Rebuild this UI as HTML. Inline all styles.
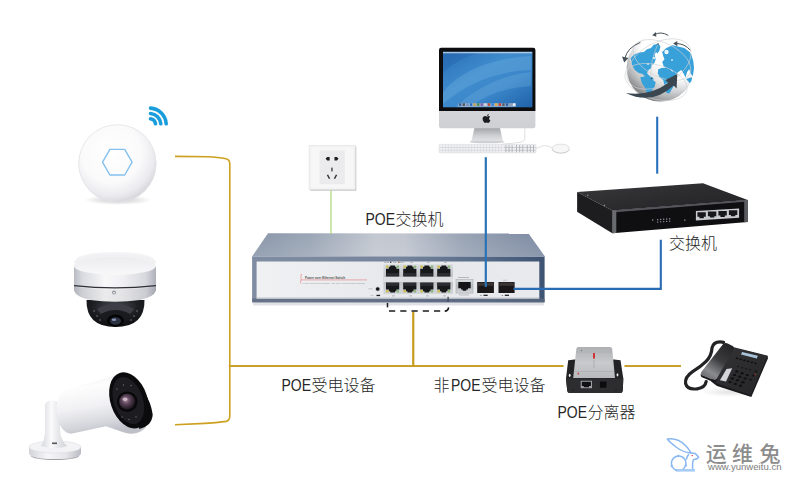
<!DOCTYPE html>
<html lang="zh-CN">
<head>
<meta charset="utf-8">
<title>POE交换机 网络拓扑</title>
<style>
html,body{margin:0;padding:0;background:#fff;}
body{width:800px;height:500px;overflow:hidden;position:relative;font-family:"Liberation Sans","Noto Sans CJK SC",sans-serif;}
svg{position:absolute;left:0;top:0;display:block;}
.lbl{font-family:"Liberation Sans","Noto Sans CJK SC",sans-serif;font-size:16px;font-weight:300;fill:#262626;}
</style>
</head>
<body>
<svg width="800" height="500" viewBox="0 0 800 500">
<defs>
<radialGradient id="apg" cx="0.42" cy="0.36" r="0.66">
<stop offset="0" stop-color="#ffffff"/><stop offset="0.58" stop-color="#fafafb"/><stop offset="0.84" stop-color="#ebebef"/><stop offset="1" stop-color="#d4d4da"/>
</radialGradient>
<radialGradient id="shad" cx="0.5" cy="0.5" r="0.5">
<stop offset="0" stop-color="#000" stop-opacity="0.22"/><stop offset="1" stop-color="#000" stop-opacity="0"/>
</radialGradient>
<linearGradient id="domeb" x1="0" x2="1" y1="0" y2="0">
<stop offset="0" stop-color="#b9bbc4"/><stop offset="0.1" stop-color="#d9dae0"/><stop offset="0.38" stop-color="#f8f8f9"/><stop offset="0.6" stop-color="#f0f0f3"/><stop offset="0.88" stop-color="#d6d7dd"/><stop offset="1" stop-color="#adafb9"/>
</linearGradient>
<linearGradient id="domet" x1="0" x2="0" y1="0" y2="1">
<stop offset="0" stop-color="#ececef"/><stop offset="1" stop-color="#f8f8f9"/>
</linearGradient>
<radialGradient id="domeg" cx="0.5" cy="0.25" r="0.8">
<stop offset="0" stop-color="#4a4d55"/><stop offset="0.5" stop-color="#1d1e22"/><stop offset="1" stop-color="#0a0a0c"/>
</radialGradient>
<linearGradient id="bulb" x1="0.2" y1="0" x2="0.45" y2="1">
<stop offset="0" stop-color="#e9e9ed"/><stop offset="0.22" stop-color="#fdfdfd"/><stop offset="0.55" stop-color="#f1f1f4"/><stop offset="0.85" stop-color="#d4d5db"/><stop offset="1" stop-color="#bfc0c8"/>
</linearGradient>
<linearGradient id="bularm" x1="0" x2="1" y1="0" y2="0">
<stop offset="0" stop-color="#d6d7dc"/><stop offset="0.4" stop-color="#fafafb"/><stop offset="1" stop-color="#cfd0d6"/>
</linearGradient>
<linearGradient id="bulbase" x1="0" x2="1" y1="0" y2="0">
<stop offset="0" stop-color="#d2d3d9"/><stop offset="0.35" stop-color="#f6f6f8"/><stop offset="0.7" stop-color="#e6e6ea"/><stop offset="1" stop-color="#bbbcc4"/>
</linearGradient>
<radialGradient id="lens" cx="0.42" cy="0.4" r="0.6">
<stop offset="0" stop-color="#a88a9e"/><stop offset="0.45" stop-color="#5a4257"/><stop offset="1" stop-color="#1b141c"/>
</radialGradient>
<linearGradient id="swtop" x1="0" x2="1" y1="0" y2="0">
<stop offset="0" stop-color="#8995a8"/><stop offset="0.2" stop-color="#9ba6b6"/><stop offset="0.42" stop-color="#c2c7d0"/><stop offset="0.52" stop-color="#c0c5cf"/><stop offset="0.72" stop-color="#98a3b4"/><stop offset="1" stop-color="#7c8aa1"/>
</linearGradient>
<linearGradient id="swtopv" x1="0" x2="0" y1="0" y2="1">
<stop offset="0" stop-color="#fff" stop-opacity="0"/><stop offset="1" stop-color="#fff" stop-opacity="0.12"/>
</linearGradient>
<linearGradient id="swframe" x1="0" x2="1" y1="0" y2="0">
<stop offset="0" stop-color="#7f8ca1"/><stop offset="0.5" stop-color="#76859c"/><stop offset="0.8" stop-color="#566a87"/><stop offset="1" stop-color="#3e5272"/>
</linearGradient>
<linearGradient id="swpanel" x1="0" x2="1" y1="0" y2="0">
<stop offset="0" stop-color="#f0f1f3"/><stop offset="0.5" stop-color="#e6e8eb"/><stop offset="1" stop-color="#e9eaee"/>
</linearGradient>
<linearGradient id="silver" x1="0" x2="0" y1="0" y2="1">
<stop offset="0" stop-color="#d9dcdf"/><stop offset="0.5" stop-color="#b9bdc2"/><stop offset="1" stop-color="#d2d5d9"/>
</linearGradient>
<g id="rjup"><path d="M0 3.200 H2.800 V1.300 H4.200 V0 H9 V1.300 H10.400 V3.200 H13.200 V11 H0 Z" fill="#17181a"/><rect x="0.600" y="7.600" width="12" height="2.800" fill="#2b2e32"/></g>
<g id="rjdn"><path d="M0 0 H13.200 V7 H10.400 V8.700 H9 V10 H4.200 V8.700 H2.800 V7 H0 Z" fill="#17181a"/><rect x="0.600" y="0.500" width="12" height="2.800" fill="#2b2e32"/></g>
<linearGradient id="scr" x1="0" y1="0" x2="1" y2="1">
<stop offset="0" stop-color="#2a6fb5"/><stop offset="0.4" stop-color="#3f8ccd"/><stop offset="0.65" stop-color="#3a86c9"/><stop offset="1" stop-color="#2062ab"/>
</linearGradient>
<linearGradient id="chin" x1="0" x2="0" y1="0" y2="1">
<stop offset="0" stop-color="#e2e3e5"/><stop offset="1" stop-color="#cfd0d3"/>
</linearGradient>
<linearGradient id="stand" x1="0" x2="0" y1="0" y2="1">
<stop offset="0" stop-color="#a4a5a9"/><stop offset="0.55" stop-color="#cfd0d3"/><stop offset="1" stop-color="#e6e6e8"/>
</linearGradient>
<clipPath id="scrclip"><rect x="443" y="51.700" width="89.400" height="55.600"/></clipPath>
<radialGradient id="globeg" cx="0.62" cy="0.3" r="0.8">
<stop offset="0" stop-color="#ffffff"/><stop offset="0.5" stop-color="#ffffff"/><stop offset="0.7" stop-color="#e4e5e7"/><stop offset="0.9" stop-color="#adb0b3"/><stop offset="1" stop-color="#8e9195"/>
</radialGradient>
<clipPath id="globeclip"><circle cx="660.300" cy="67.800" r="33.700"/></clipPath>
<linearGradient id="bstop" x1="0" y1="0" x2="1" y2="1">
<stop offset="0" stop-color="#3a3a3d"/><stop offset="0.5" stop-color="#2c2c2f"/><stop offset="1" stop-color="#232326"/>
</linearGradient>
<linearGradient id="spl" x1="0" y1="0" x2="0" y2="1">
<stop offset="0" stop-color="#aeafb2"/><stop offset="0.5" stop-color="#c9cacc"/><stop offset="1" stop-color="#b8b9bc"/>
</linearGradient>
<linearGradient id="hs" x1="0.8" y1="0" x2="0.2" y2="1">
<stop offset="0" stop-color="#232325"/><stop offset="0.45" stop-color="#3c3c3f"/><stop offset="0.8" stop-color="#8a8b8e"/><stop offset="1" stop-color="#6a6b6e"/>
</linearGradient>
<linearGradient id="phb" x1="0" y1="0" x2="1" y2="1">
<stop offset="0" stop-color="#343437"/><stop offset="1" stop-color="#252527"/>
</linearGradient>
<linearGradient id="globesh" x1="0.8" y1="0.1" x2="0.2" y2="0.95">
<stop offset="0" stop-color="#666" stop-opacity="0"/><stop offset="0.45" stop-color="#666" stop-opacity="0"/><stop offset="0.8" stop-color="#6c6c6c" stop-opacity="0.3"/><stop offset="1" stop-color="#555" stop-opacity="0.6"/>
</linearGradient>
<!--DEFS-->
</defs>
<rect width="800" height="500" fill="#fff"/>
<!--LINES-->
<g id="ap">
<ellipse cx="118" cy="200" rx="34" ry="5" fill="url(#shad)"/>
<circle cx="117.400" cy="163.400" r="39" fill="url(#apg)"/>
<circle cx="117.400" cy="163.400" r="38.700" fill="none" stroke="#e3e3e8" stroke-width="0.8"/>
<polygon points="102.500,162.200 109.900,149.400 124.700,149.400 132.100,162.200 124.700,175 109.900,175" fill="none" stroke="#84c1ef" stroke-width="1.4" stroke-linejoin="round"/>
<g fill="none" stroke="#1a9ddb" stroke-linecap="round" stroke-width="3.6">
<path d="M150.500 118.800 A6 6 0 0 1 155.500 123.800"/>
<path d="M150.500 113.500 A11.300 11.300 0 0 1 160.800 123.800"/>
<path d="M150.500 108.100 A16.700 16.700 0 0 1 166.200 123.800"/>
</g>
</g>
<!--AP-->
<g id="domecam">
<ellipse cx="115" cy="259.500" rx="39" ry="7.500" fill="#f4f4f6"/>
<ellipse cx="115" cy="262" rx="41" ry="8" fill="#f1f1f3"/>
<path d="M86.500 300 Q86 327 115.500 327 Q145 327 144.500 300 Z" fill="url(#domeg)"/>
<path d="M97 309 Q115 299 134 309 L130 314 Q115.500 307 101 314 Z" fill="#3c3f46"/>
<path d="M101 314 Q115.500 306 130 314 Q127 322 115.500 317 Q104 322 101 314 Z" fill="#1a1b1f"/>
<ellipse cx="115.500" cy="320.500" rx="8.500" ry="6" fill="#050506"/>
<ellipse cx="115.500" cy="321" rx="5.500" ry="3.800" fill="#2b3242"/>
<ellipse cx="114" cy="319.800" rx="2.200" ry="1.300" fill="#8794b3"/>
<g fill="#777a82"><circle cx="94" cy="311" r="0.800"/><circle cx="97" cy="316" r="0.800"/><circle cx="100" cy="320" r="0.800"/><circle cx="137" cy="311" r="0.800"/><circle cx="134" cy="316" r="0.800"/><circle cx="131" cy="320" r="0.800"/></g>
<path d="M74 266 L74 290.500 Q76 297 90 300 Q115 303.500 140 300 Q154 297 156 290.500 L156 266 Z" fill="url(#domeb)"/>
<path d="M74 287 Q115 292 156 287 L156 290.500 Q154 297 140 300 Q115 303.500 90 300 Q76 297 74 290.500 Z" fill="#000" opacity="0.05"/>
<ellipse cx="115" cy="266" rx="41" ry="9" fill="url(#domet)"/>
<path d="M74 285.600 Q115 290.200 156 285.600" fill="none" stroke="#2e3036" stroke-width="1.400"/>
<circle cx="114" cy="292.500" r="1.900" fill="#8d9098"/>
<circle cx="114" cy="292.700" r="0.900" fill="#f4f4f4"/>
</g>
<!--DOME-->
<g id="bulletcam">
<ellipse cx="55" cy="456" rx="24" ry="4" fill="#9fa1a8"/>
<path d="M29 447 L29 453 Q29 459 55 459 Q81 459 81 453 L81 447 Z" fill="url(#bulbase)"/>
<ellipse cx="55" cy="447" rx="26" ry="6" fill="#f3f3f5"/>
<ellipse cx="55" cy="447" rx="26" ry="6" fill="none" stroke="#dcdde2" stroke-width="0.6"/>
<path d="M45 405 Q45.500 400.500 52 400.500 L60 402 L60 430 Q60.500 440 67 446 Q55 450.500 41 446 Q45 440 45 430 Z" fill="url(#bularm)"/>
<rect x="52" y="442.500" width="5" height="1.600" fill="#555"/>
<path d="M67 389.700 L118 374.500 Q140 380 140 420 L146 427 Q138 436.500 124 432.500 L106 426.300 L71 433.700 Q58 432 56.500 409 Q57 393 67 389.700 Z" fill="url(#bulb)"/>
<path d="M144 392 Q151 402 152.700 414.500 Q152 426 139 429 Z" fill="#0b0b0d"/>
<g transform="rotate(-19 129 400.400)">
<ellipse cx="129" cy="400.400" rx="18.500" ry="29" fill="#0b0b0d"/>
<ellipse cx="128.300" cy="400.400" rx="14.500" ry="24.500" fill="#1d1d21"/>
</g>
<circle cx="127.200" cy="401.700" r="10.300" fill="#08080a"/>
<circle cx="127.200" cy="401.700" r="8" fill="url(#lens)"/>
<ellipse cx="125" cy="399.300" rx="2.600" ry="1.800" fill="#d9c9d6" opacity="0.8"/>
<g fill="#6a6a72"><circle cx="117" cy="389" r="0.700"/><circle cx="123.500" cy="385" r="0.700"/><circle cx="131" cy="385.500" r="0.700"/><circle cx="122" cy="417" r="0.700"/><circle cx="129" cy="419.500" r="0.700"/><circle cx="136" cy="417" r="0.700"/></g>
</g>
<!--BULLET-->
<g id="socket">
<rect x="310.200" y="146.500" width="46" height="44" fill="#8d8d8d" opacity="0.75"/>
<rect x="309.100" y="145.400" width="46.200" height="44.200" fill="#f3f3f4"/>
<rect x="309.100" y="145.400" width="46.200" height="44.200" fill="none" stroke="#e3e3e5" stroke-width="0.7"/>
<rect x="311.500" y="147.500" width="41.500" height="40" fill="#f7f7f8"/>
<rect x="319.500" y="150.300" width="25.400" height="33.900" fill="#ebebed"/>
<g fill="#1d1d1f">
<path d="M325.600 158.800 L327.200 157 L329.600 157 L329.600 160.600 L327.200 160.600 Z"/>
<path d="M338.500 158.800 L336.900 157 L334.500 157 L334.500 160.600 L336.900 160.600 Z"/>
<rect x="331.300" y="167.600" width="1.300" height="3.800" fill="#333"/>
<path d="M326.800 175 L328.100 174.400 L330.200 178.400 L328.900 179 Z" fill="#333"/>
<path d="M337.200 175 L335.900 174.400 L333.800 178.400 L335.100 179 Z" fill="#333"/>
</g>
</g>
<!--SOCKET-->
<g id="poeswitch">
<rect x="253" y="301" width="291" height="4.500" fill="#d9dbe0" opacity="0.8"/>
<polygon points="268,233.200 528.500,233.500 544.600,256 252.100,256.500" fill="url(#swtop)"/>
<polygon points="268,233.200 528.500,233.500 544.600,256 252.100,256.500" fill="url(#swtopv)"/>
<rect x="252.100" y="256" width="292.500" height="46.300" fill="url(#swframe)"/>
<rect x="252.100" y="256" width="292.500" height="1" fill="#b4bccb" opacity="0.7"/>
<rect x="252.100" y="298.500" width="292.500" height="3.800" fill="#5d6a80" opacity="0.75"/>
<rect x="256.600" y="261.500" width="282.700" height="37" fill="url(#swpanel)"/>
<rect x="256.600" y="297.400" width="282.700" height="1.100" fill="#c9ccd3"/>
<g fill="none" stroke="#e0626a" stroke-width="0.500"><path d="M302 274.500 L301 274.500 L301 279.900 L367 279.900"/><path d="M301 279.900 L300.300 283.300"/></g>
<text x="305" y="278.600" font-family="'Liberation Sans',sans-serif" font-size="3.600" font-weight="700" fill="#555" textLength="40" lengthAdjust="spacingAndGlyphs">Power over Ethernet Switch</text>
<text x="302" y="283.600" font-family="'Liberation Sans',sans-serif" font-size="2.300" fill="#999" textLength="63" lengthAdjust="spacingAndGlyphs">8-Port 10/100/1000Mbps + 2G SFP PoE Managed Switch</text>
<circle cx="377.700" cy="289" r="2.500" fill="#c4c7cc"/><circle cx="377.700" cy="289" r="1.800" fill="#121214"/>
<rect x="376.500" y="294.800" width="3.600" height="1.300" fill="#1a1a1c"/>
<rect x="368.500" y="288.400" width="4" height="0.900" fill="#b9bcc2"/><rect x="370.500" y="295" width="3" height="0.800" fill="#b9bcc2"/>
<g fill="#a6aab1"><rect x="384" y="261.900" width="5" height="0.800"/><rect x="393" y="261.900" width="3.500" height="0.800"/><rect x="399" y="261.900" width="5" height="0.800"/><rect x="410" y="261.900" width="3" height="0.800"/><rect x="427" y="261.900" width="3" height="0.800"/><rect x="444" y="261.900" width="3" height="0.800"/>
<rect x="392" y="295.500" width="3" height="0.800"/><rect x="409" y="295.500" width="3" height="0.800"/><rect x="426" y="295.500" width="3" height="0.800"/><rect x="443" y="295.500" width="3" height="0.800"/></g>
<rect x="390" y="261.700" width="1.400" height="1.200" fill="#333"/><rect x="398" y="261.700" width="1.400" height="1.200" fill="#b5642a"/>
<rect x="383.500" y="264.300" width="69.500" height="29.700" fill="url(#silver)"/>
<rect x="383.500" y="277" width="69.500" height="5" fill="#dcdee1"/>
<use href="#rjup" x="386" y="265.500"/><use href="#rjdn" x="386" y="282.500"/><rect x="386.2" y="265.600" width="2.400" height="2.200" fill="#cdb93a"/><rect x="396.6" y="265.600" width="2.400" height="2.200" fill="#86b374"/><rect x="386.2" y="290.200" width="2.400" height="2.200" fill="#cdb93a"/><rect x="396.6" y="290.200" width="2.400" height="2.200" fill="#86b374"/><use href="#rjup" x="403.2" y="265.500"/><use href="#rjdn" x="403.2" y="282.500"/><rect x="403.4" y="265.600" width="2.400" height="2.200" fill="#cdb93a"/><rect x="413.8" y="265.600" width="2.400" height="2.200" fill="#86b374"/><rect x="403.4" y="290.200" width="2.400" height="2.200" fill="#cdb93a"/><rect x="413.8" y="290.200" width="2.400" height="2.200" fill="#86b374"/><use href="#rjup" x="420.2" y="265.500"/><use href="#rjdn" x="420.2" y="282.500"/><rect x="420.4" y="265.600" width="2.400" height="2.200" fill="#cdb93a"/><rect x="430.8" y="265.600" width="2.400" height="2.200" fill="#86b374"/><rect x="420.4" y="290.200" width="2.400" height="2.200" fill="#cdb93a"/><rect x="430.8" y="290.200" width="2.400" height="2.200" fill="#86b374"/><use href="#rjup" x="437.2" y="265.500"/><use href="#rjdn" x="437.2" y="282.500"/><rect x="437.4" y="265.600" width="2.400" height="2.200" fill="#cdb93a"/><rect x="447.8" y="265.600" width="2.400" height="2.200" fill="#86b374"/><rect x="437.4" y="290.200" width="2.400" height="2.200" fill="#cdb93a"/><rect x="447.8" y="290.200" width="2.400" height="2.200" fill="#86b374"/>
<rect x="458" y="277" width="11" height="0.800" fill="#a6aab1"/>
<rect x="456" y="279.700" width="17" height="13.400" fill="url(#silver)" stroke="#9ea2a8" stroke-width="0.500"/>
<path d="M458.300 282 H470.700 V288.300 H468 V289.600 H466.300 V290.800 H462.700 V289.600 H461 V288.300 H458.300 Z" fill="#141416"/>
<rect x="459" y="294.600" width="10" height="0.700" fill="#a6aab1"/>
<rect x="477.200" y="282" width="16.700" height="11" fill="#1b1718"/><rect x="478" y="282.600" width="15" height="3.200" fill="#3b3536"/>
<rect x="498.500" y="282" width="16.100" height="11" fill="#1b1718"/><rect x="499.300" y="282.600" width="14.500" height="3.200" fill="#3b3536"/>
<rect x="483.500" y="294.700" width="4.200" height="1.200" fill="#1a1a1c"/><rect x="504.800" y="294.700" width="4.200" height="1.200" fill="#1a1a1c"/>
<rect x="480.500" y="295" width="1" height="0.800" fill="#555"/><rect x="501.800" y="295" width="1" height="0.800" fill="#555"/>
<rect x="503" y="279.800" width="4" height="0.700" fill="#b5b8be"/>
</g>
<g fill="none" stroke="#1c1c1e" stroke-width="1.500">
<path d="M387.500 303 L387.500 307.400"/>
<path d="M389 311.100 L444.500 311.100" stroke-dasharray="6.200 5.050"/>
<path d="M444.750 311.100 Q448.200 311.100 448.600 307.400" stroke-width="1.600"/>
<path d="M448.100 296.800 L448.100 301.800" stroke="#3d4657" stroke-width="1.300"/>
</g>
<g fill="none" stroke-linecap="butt" stroke-linejoin="round">
<path d="M175 156.400 L209 156.800 Q222 157.600 226 158.800 Q229.800 159.800 229.800 164 L229.800 416 Q229.800 420.500 226 421.400 Q216 422.800 205 423.400 L175 424.800" stroke="#cda01f" stroke-width="1.6"/>
<path d="M228.800 366 L563.500 366 M624.500 366 L681 366" stroke="#c9a02a" stroke-width="1.8"/>
<path d="M413.250 312 L413.250 366" stroke="#c89a1e" stroke-width="2.2"/>
<path d="M331 190.500 L331 234" stroke="#acd67c" stroke-width="1.2"/>
<path d="M485.800 157.200 L485.800 287" stroke="#2a72b6" stroke-width="2.2"/>
<path d="M513.500 288.900 L661.850 288.900 M660.800 289.900 L660.800 239.800" stroke="#2a6cb4" stroke-width="2.1"/>
<path d="M657.200 116.700 L657.200 173.700" stroke="#2a70bc" stroke-width="2.1"/>
</g>
<!--POESWITCH-->
<g id="imac">
<path d="M474.400 128 L500 128 L502.500 139.500 Q503 141.800 504.500 142 L469.500 142 Q471.300 141.800 471.800 139.500 Z" fill="url(#stand)"/>
<ellipse cx="487" cy="142" rx="17.500" ry="1.300" fill="#cfd0d3"/>
<rect x="439" y="47.800" width="96.400" height="80.500" rx="2.200" fill="url(#chin)"/>
<path d="M441.200 47.800 H533.200 Q535.400 47.800 535.400 50 V111 H439 V50 Q439 47.800 441.200 47.800 Z" fill="#0d0d0f"/>
<rect x="438.400" y="110.800" width="97.200" height="17.500" fill="none"/>
<rect x="443" y="51.700" width="89.400" height="55.600" fill="url(#scr)"/>
<g clip-path="url(#scrclip)">
<path d="M443 92 Q470 60 531 56 L531 70 Q480 72 443 104 Z" fill="#7fbbe6" opacity="0.28"/>
<path d="M455 107 Q490 76 531 72 L531 86 Q495 88 470 107 Z" fill="#8cc6ee" opacity="0.22"/>
<path d="M443 72 Q460 58 480 51.700 L443 51.700 Z" fill="#1f5ea8" opacity="0.3"/>
<rect x="443" y="51.700" width="89.400" height="1.600" fill="#c3d3e6" opacity="0.85"/>
<rect x="458.400" y="103.300" width="57.400" height="3.500" fill="#a9bfd9" opacity="0.8"/>
<g><rect x="459" y="103.300" width="2.400" height="2.600" fill="#3a5f9a"/><rect x="462.600" y="103.300" width="2.400" height="2.600" fill="#555"/><rect x="466.200" y="103.300" width="2.400" height="2.600" fill="#7b8fb0"/><rect x="469.800" y="103.300" width="2.400" height="2.600" fill="#2b6fc0"/><rect x="473.400" y="103.300" width="2.400" height="2.600" fill="#c9a04a"/><rect x="477" y="103.300" width="2.400" height="2.600" fill="#4f8a4c"/><rect x="480.600" y="103.300" width="2.400" height="2.600" fill="#8a5fb0"/><rect x="484.200" y="103.300" width="2.400" height="2.600" fill="#d9d9d9"/><rect x="487.800" y="103.300" width="2.400" height="2.600" fill="#c24a3a"/><rect x="491.400" y="103.300" width="2.400" height="2.600" fill="#3b7fd0"/><rect x="495" y="103.300" width="2.400" height="2.600" fill="#e0b040"/><rect x="498.600" y="103.300" width="2.400" height="2.600" fill="#d03a30"/><rect x="502.200" y="103.300" width="2.400" height="2.600" fill="#5a5a5a"/><rect x="505.800" y="103.300" width="2.400" height="2.600" fill="#2f5fa0"/><rect x="509.400" y="103.300" width="2.400" height="2.600" fill="#8f9fb5"/><rect x="513" y="103.300" width="2.400" height="2.600" fill="#eee"/></g>
</g>
<g fill="#1c1c1e"><path d="M487.100 116.700 c0.900 -1 2.300 -0.900 3 0 c-1.500 1 -1.300 3 0.300 3.600 c-0.500 1.500 -1.500 2.700 -2.300 2.700 c-0.600 0 -0.800 -0.400 -1.500 -0.400 c-0.700 0 -0.900 0.400 -1.500 0.400 c-1 0 -2.500 -2.300 -2.500 -4.200 c0 -2 1.400 -2.900 2.500 -2.900 c0.700 0 1.400 0.500 2 0.800 Z"/><path d="M487 115.900 c0 -1 0.800 -1.900 1.800 -2 c0.100 1 -0.800 2 -1.800 2 Z"/></g>
<path d="M524.800 128.300 L524.800 138 Q524.800 141.500 521 142.200 Q510 143.500 502 144.300" fill="none" stroke="#d0d1d4" stroke-width="0.700"/>
<path d="M552.500 148 Q545 143.800 540 147 Q538 148.200 536 148.300" fill="none" stroke="#d0d1d4" stroke-width="0.700"/>
<rect x="439.100" y="144.400" width="96.900" height="8.400" rx="1" fill="#f0f0f2" stroke="#cfd0d3" stroke-width="0.500"/>
<rect x="439.600" y="147.300" width="62" height="0.500" fill="#c9cace"/><rect x="439.600" y="149.900" width="62" height="0.500" fill="#c9cace"/>
<rect x="503.500" y="147.300" width="32" height="0.600" fill="#b4b6bb"/><rect x="503.500" y="149.900" width="32" height="0.600" fill="#b4b6bb"/>
<rect x="442.05" y="145" width="0.5" height="7.300" fill="#d2d3d6"/><rect x="445.00" y="145" width="0.5" height="7.300" fill="#d2d3d6"/><rect x="447.95" y="145" width="0.5" height="7.300" fill="#d2d3d6"/><rect x="450.90" y="145" width="0.5" height="7.300" fill="#d2d3d6"/><rect x="453.85" y="145" width="0.5" height="7.300" fill="#d2d3d6"/><rect x="456.80" y="145" width="0.5" height="7.300" fill="#d2d3d6"/><rect x="459.75" y="145" width="0.5" height="7.300" fill="#d2d3d6"/><rect x="462.70" y="145" width="0.5" height="7.300" fill="#d2d3d6"/><rect x="465.65" y="145" width="0.5" height="7.300" fill="#d2d3d6"/><rect x="468.60" y="145" width="0.5" height="7.300" fill="#d2d3d6"/><rect x="471.55" y="145" width="0.5" height="7.300" fill="#d2d3d6"/><rect x="474.50" y="145" width="0.5" height="7.300" fill="#d2d3d6"/><rect x="477.45" y="145" width="0.5" height="7.300" fill="#d2d3d6"/><rect x="480.40" y="145" width="0.5" height="7.300" fill="#d2d3d6"/><rect x="483.35" y="145" width="0.5" height="7.300" fill="#d2d3d6"/><rect x="486.30" y="145" width="0.5" height="7.300" fill="#d2d3d6"/><rect x="489.25" y="145" width="0.5" height="7.300" fill="#d2d3d6"/><rect x="492.20" y="145" width="0.5" height="7.300" fill="#d2d3d6"/><rect x="495.15" y="145" width="0.5" height="7.300" fill="#d2d3d6"/><rect x="498.10" y="145" width="0.5" height="7.300" fill="#d2d3d6"/><rect x="501.05" y="145" width="0.5" height="7.300" fill="#d2d3d6"/><rect x="505.50" y="145" width="0.8" height="7.300" fill="#a9abb0"/><rect x="508.60" y="145" width="0.8" height="7.300" fill="#a9abb0"/><rect x="511.70" y="145" width="0.8" height="7.300" fill="#a9abb0"/><rect x="516.20" y="145" width="0.8" height="7.300" fill="#a9abb0"/><rect x="519.30" y="145" width="0.8" height="7.300" fill="#a9abb0"/><rect x="522.40" y="145" width="0.8" height="7.300" fill="#a9abb0"/><rect x="526.80" y="145" width="0.8" height="7.300" fill="#a9abb0"/><rect x="529.90" y="145" width="0.8" height="7.300" fill="#a9abb0"/><rect x="533.00" y="145" width="0.8" height="7.300" fill="#a9abb0"/>
<ellipse cx="560.800" cy="149.500" rx="8.600" ry="4" fill="#c3c4c8"/>
<ellipse cx="560.800" cy="148.500" rx="8.600" ry="4.400" fill="#f7f7f8" stroke="#cdced2" stroke-width="0.600"/>
</g>
<!--IMAC-->
<g id="globe">
<circle cx="660.300" cy="67.800" r="33.700" fill="url(#globeg)"/>
<circle cx="660.300" cy="67.800" r="33.700" fill="url(#globesh)"/>
<g clip-path="url(#globeclip)" fill="#38a1da">
<polygon points="630.8,58.3 633.9,54.7 639.3,52.4 643.8,52.0 647.0,49.3 651.0,48.0 653.7,44.8 658.2,43.7 660.4,46.2 659.6,50.2 657.5,53.4 656.0,52.0 654.6,54.7 655.7,59.2 654.2,63.2 651.9,65.0 651.0,68.2 648.5,70.0 647.0,73.2 649.6,76.1 652.8,77.6 653.9,79.5 650.6,79.7 646.0,77.2 642.4,74.0 638.8,72.9 634.8,70.0 632.1,65.0"/><polygon points="640.2,77.6 644.7,76.3 651.0,78.6 655.7,82.2 654.6,87.1 651.0,92.0 648.8,96.3 647.0,93.4 645.2,88.0 642.0,83.5"/><polygon points="662.2,52.0 666.3,48.0 672.6,45.2 678.0,46.6 684.3,48.0 689.7,52.0 693.3,56.5 694.6,63.7 694.2,70.0 692.8,76.3 690.6,73.6 689.2,69.1 687.0,72.2 685.6,77.6 683.4,73.2 681.2,70.0 678.0,72.2 675.8,75.0 673.0,73.2 672.2,70.0 669.0,69.3 665.8,68.2 663.6,66.0 662.2,61.9 664.5,59.2 663.2,56.0"/><polygon points="658.2,69.3 662.2,67.8 669.0,68.2 673.0,72.2 677.1,75.8 675.8,82.2 672.6,88.0 669.4,93.4 666.5,93.0 664.7,86.2 663.2,79.9 659.6,77.2 657.8,73.2"/><polygon points="686.1,79.0 691.5,77.2 693.8,81.2 689.7,83.0"/>
<circle cx="666.500" cy="52" r="2.200" fill="#fff" opacity="0.9"/>
<circle cx="654" cy="58" r="1.200" fill="#fff" opacity="0.8"/><circle cx="648" cy="64" r="1" fill="#fff" opacity="0.8"/><circle cx="672" cy="60" r="1" fill="#fff" opacity="0.7"/>
</g>
<g fill="none" stroke="#cfd1d3" stroke-width="0.600">
<ellipse cx="659" cy="64" rx="35" ry="21" transform="rotate(-30 659 64)"/>
<ellipse cx="662" cy="60" rx="31" ry="17" transform="rotate(26 662 60)"/>
<ellipse cx="656" cy="82" rx="32" ry="17" transform="rotate(16 656 82)"/>
<path d="M658 44 Q650 60 651 78"/>
</g>
<path d="M625.8 93.0 Q649.2 96.6 668.1 83.0 L665.4 80.1 L677.3 74.0 L676.6 88.4 L673.7 85.5 Q651.9 105.6 625.8 93.0 Z" fill="#3a4650"/>
<g fill="none" stroke="#47515a" stroke-width="1" stroke-linecap="round">
<path d="M640 42.500 Q627 48 625 58"/>
<path d="M668 35.200 Q661 31 654.500 34.500"/>
<path d="M690 50 Q685 43.500 676 43.500"/>
</g>
<g fill="#47515a"><polygon points="622,56.500 628.500,58 624.200,62.500"/><polygon points="652.200,35.200 656,32 656.300,36.800"/><polygon points="673.200,43.600 677.300,41 677.300,46.200"/></g>
<circle cx="658" cy="44" r="0.800" fill="#3a4650"/><circle cx="651.500" cy="78.500" r="0.800" fill="#3a4650"/>
</g>
<!--GLOBE-->
<g id="blackswitch">
<polygon points="577.100,192.100 703,183.300 747.700,200 612.300,210.600" fill="url(#bstop)"/>
<polygon points="577.100,192.100 612.300,210.600 612.300,233.200 577.100,211.800" fill="#1d1d1f"/>
<polygon points="612.300,210.600 747.700,200 747.700,222 612.300,233.200" fill="#0f0f11"/>
<polygon points="612.300,210.600 747.700,200 747.700,201.600 612.300,212.400" fill="#55565b"/>
<polygon points="612.300,210.600 616.300,210.300 616.300,232.900 612.300,233.200" fill="#6a6b70"/>
<polygon points="744.200,200.300 747.700,200 747.700,222 744.200,222.300" fill="#5a5b60"/>
<polygon points="695.900,211 739.100,208.400 739.100,217.800 695.900,220.600" fill="#c9cbcf"/>
<path d="M697.4 212.2 h8.400 v4.600 h-2 v1.400 h-4.400 v-1.400 h-2 Z" fill="#18181a"/><path d="M707.9 211.6 h8.400 v4.600 h-2 v1.400 h-4.400 v-1.400 h-2 Z" fill="#18181a"/><path d="M718.4 211.0 h8.400 v4.600 h-2 v1.400 h-4.400 v-1.400 h-2 Z" fill="#18181a"/><path d="M728.9 210.3 h8.400 v4.600 h-2 v1.400 h-4.400 v-1.400 h-2 Z" fill="#18181a"/>
<g fill="#8a8d93"><rect x="652" y="219.300" width="1.300" height="1.300"/><rect x="657" y="219" width="1.300" height="1.300"/><rect x="660" y="218.800" width="1.300" height="1.300"/><rect x="663" y="218.600" width="1.300" height="1.300"/><rect x="666" y="218.400" width="1.300" height="1.300"/><rect x="669" y="218.200" width="1.300" height="1.300"/><rect x="657" y="221.500" width="1.300" height="1.100"/><rect x="660" y="221.300" width="1.300" height="1.100"/><rect x="663" y="221.100" width="1.300" height="1.100"/><rect x="666" y="220.900" width="1.300" height="1.100"/><rect x="669" y="220.700" width="1.300" height="1.100"/><rect x="684" y="219.600" width="1.600" height="1.100"/></g>
<circle cx="587.800" cy="195.200" r="0.800" fill="#8a8a8e"/><circle cx="604.400" cy="205.400" r="0.800" fill="#8a8a8e"/>
</g>
<!--BLACKSWITCH-->
<g id="splitter">
<path d="M568.200 360.300 L574.500 359.500 L614 359.500 L620.500 360.300 L623.300 378.500 L622.800 390.500 Q622.600 393 620 393 L570 393 Q567.400 393 567.200 390.500 L566 378.500 Z" fill="#232325"/>
<path d="M566 378.500 L623.300 378.500 L622.800 390.500 Q622.600 393 620 393 L570 393 Q567.400 393 567.200 390.500 Z" fill="#2d2d30"/>
<path d="M578.500 347 L610 347 Q612 347 612.200 349 L615 378 L573.200 378 L576.300 349 Q576.500 347 578.500 347 Z" fill="url(#spl)"/>
<path d="M574 371.500 L614.300 371.500" stroke="#9b9ca0" stroke-width="0.400" fill="none"/>
<path d="M576 352 L612.500 352" stroke="#a9aaae" stroke-width="0.400" fill="none"/>
<rect x="593" y="353" width="2" height="5.600" fill="#d2343a"/>
<rect x="593.300" y="360" width="1.300" height="8" fill="#b2b3b7"/>
<rect x="577.500" y="372.800" width="1.600" height="1.600" fill="#c2403f"/>
<circle cx="581.500" cy="350.500" r="0.700" fill="#77787c"/>
<ellipse cx="569.700" cy="375.300" rx="0.900" ry="1.600" fill="#f2f2f2"/><ellipse cx="617.500" cy="374.800" rx="0.900" ry="1.600" fill="#f2f2f2"/>
<rect x="580.700" y="380.800" width="11.300" height="7.400" fill="#9fa1a5"/>
<path d="M581.800 381.800 H590.900 V386 H589 V387.300 H583.700 V386 H581.800 Z" fill="#101012"/>
<rect x="599.900" y="381.600" width="6.500" height="6.200" rx="0.600" fill="#0c0c0e"/>
<circle cx="573" cy="390" r="0.600" fill="#0c0c0e"/><circle cx="616" cy="390" r="0.600" fill="#0c0c0e"/>
</g>
<!--SPLITTER-->
<g id="phone">
<ellipse cx="730" cy="392" rx="30" ry="5" fill="url(#shad)" opacity="0.5"/>
<path d="M723.6,342.3 Q713.7,340.6 712.0,347.9 Q711.7,355.8 705.8,361.7 Q700.5,367.0 692.6,371.6 Q684.7,376.9 685.6,383.5 Q687.3,390.1 697.2,388.8 Q705.1,387.7 706.2,381.5" fill="none" stroke="#232325" stroke-width="3.200" stroke-linecap="round"/>
<polygon points="728.9,346.8 767.7,356.1 767.9,358.4 751.3,397.0 717.0,385.9 711.1,381.5" fill="#1a1a1c"/>
<polygon points="728.9,346.0 767.7,355.8 750.6,395.1 716.7,383.2 711.1,380.2" fill="url(#phb)"/>
<polygon points="742.1,352.1 757.9,355.8 756.8,358.4 741.0,354.5" fill="#a9c4da"/>
<polygon points="726.5,369.0 732.2,368.3 726.0,381.5 719.9,380.2" fill="#d4d5d8"/>
<ellipse cx="736.8" cy="371.4" rx="1.700" ry="1.200" fill="#111113"/><ellipse cx="742.1" cy="373.2" rx="1.700" ry="1.200" fill="#111113"/><ellipse cx="747.3" cy="375.1" rx="1.700" ry="1.200" fill="#111113"/><ellipse cx="734.5" cy="374.9" rx="1.700" ry="1.200" fill="#111113"/><ellipse cx="739.8" cy="376.8" rx="1.700" ry="1.200" fill="#111113"/><ellipse cx="745.1" cy="378.6" rx="1.700" ry="1.200" fill="#111113"/><ellipse cx="732.3" cy="378.5" rx="1.700" ry="1.200" fill="#111113"/><ellipse cx="737.6" cy="380.3" rx="1.700" ry="1.200" fill="#111113"/><ellipse cx="742.9" cy="382.2" rx="1.700" ry="1.200" fill="#111113"/><ellipse cx="730.1" cy="382.1" rx="1.700" ry="1.200" fill="#111113"/><ellipse cx="735.3" cy="383.9" rx="1.700" ry="1.200" fill="#111113"/><ellipse cx="740.6" cy="385.7" rx="1.700" ry="1.200" fill="#111113"/><ellipse cx="737.0" cy="358.4" rx="1.400" ry="0.800" fill="#111113"/><ellipse cx="740.7" cy="359.4" rx="1.400" ry="0.800" fill="#111113"/><ellipse cx="744.4" cy="360.4" rx="1.400" ry="0.800" fill="#111113"/><ellipse cx="748.1" cy="361.4" rx="1.400" ry="0.800" fill="#111113"/><ellipse cx="751.8" cy="362.4" rx="1.400" ry="0.800" fill="#111113"/><ellipse cx="755.5" cy="363.4" rx="1.400" ry="0.800" fill="#111113"/><ellipse cx="738.1" cy="366.6" rx="1.300" ry="0.700" fill="#18181a"/><ellipse cx="742.1" cy="367.7" rx="1.300" ry="0.700" fill="#18181a"/><ellipse cx="746.0" cy="368.7" rx="1.300" ry="0.700" fill="#18181a"/><ellipse cx="750.0" cy="369.8" rx="1.300" ry="0.700" fill="#18181a"/><ellipse cx="755.9" cy="371.4" rx="1.500" ry="1" fill="#151517"/><ellipse cx="753.3" cy="375.6" rx="1.500" ry="1" fill="#151517"/><ellipse cx="750.6" cy="379.8" rx="1.500" ry="1" fill="#151517"/>
<circle cx="755.3" cy="374.5" r="0.700" fill="#b5382c"/>
<path d="M723.3,343.7 Q725.6,342.3 728.2,343.7 L733.1,346.3 Q734.7,347.6 733.4,350.3 L716.5,378.9 Q715.1,380.6 712.8,379.5 L702.2,375.3 Q700.1,374.0 701.7,371.4 Z" fill="url(#hs)"/>
<path d="M701.7,371.4 Q700.1,374.0 702.2,375.3 L712.8,379.5 Q715.1,380.6 716.5,378.9 L716.7,380.9 Q715.4,382.5 712.8,381.7 L701.9,377.2 Q699.6,375.9 701.7,371.4 Z" fill="#1a1a1c"/>
</g>
<!--PHONE-->
<g class="lbl">
<text x="365.500" y="225"><tspan textLength="29.500" lengthAdjust="spacingAndGlyphs">POE</tspan><tspan x="395.500">交换机</tspan></text>
<text x="669" y="249">交换机</text>
<text x="281.500" y="391.300"><tspan textLength="29.500" lengthAdjust="spacingAndGlyphs">POE</tspan><tspan x="311.500">受电设备</tspan></text>
<text x="433.500" y="391.300">非<tspan x="451" textLength="29.500" lengthAdjust="spacingAndGlyphs">POE</tspan><tspan x="481.500">受电设备</tspan></text>
<text x="557.500" y="417.500"><tspan textLength="29.500" lengthAdjust="spacingAndGlyphs">POE</tspan><tspan x="587.500">分离器</tspan></text>
</g>
<!--LABELS-->
<g id="watermark">
<g fill="none" stroke="#88b8f1" stroke-width="1.500" stroke-linecap="round" stroke-linejoin="round">
<path d="M667.300 439 Q678 437.500 686 446 Q690 450.500 690.800 453 Q683 452.500 676 447 Q669.500 442 667.300 439 Z"/>
<path d="M690.800 453 Q695.500 452.500 697.300 455.500 L698.600 457.200 Q697 459.500 693.800 459.600 Q692.600 461 692.600 463.500 L692.600 469"/>
<path d="M688.500 454.500 Q687 456.500 686.500 459"/>
<circle cx="678.700" cy="463.300" r="7.300"/>
</g>
<g fill="#8fbcf2"><circle cx="678.200" cy="456" r="1.300"/><circle cx="671.800" cy="466" r="1.300"/><circle cx="685.800" cy="465.500" r="1.300"/><circle cx="676.500" cy="470.300" r="1.200"/></g>
<rect x="677" y="469" width="18" height="2.600" fill="#a9ccf5"/>
<circle cx="692.200" cy="455.500" r="0.800" fill="#e2575b"/>
<text font-family="'Liberation Sans','Noto Sans CJK SC',sans-serif" font-size="21" font-weight="500" fill="#8c8c8c" y="460.900"><tspan x="705.800">运</tspan><tspan x="732">维</tspan><tspan x="759.500">兔</tspan></text>
<text x="708" y="470.300" font-family="'Liberation Sans',sans-serif" font-size="9" fill="#7d7d7d" textLength="73.500" lengthAdjust="spacingAndGlyphs">www.yunweitu.cn</text>
</g>
<!--WATERMARK-->
</svg>
</body>
</html>
